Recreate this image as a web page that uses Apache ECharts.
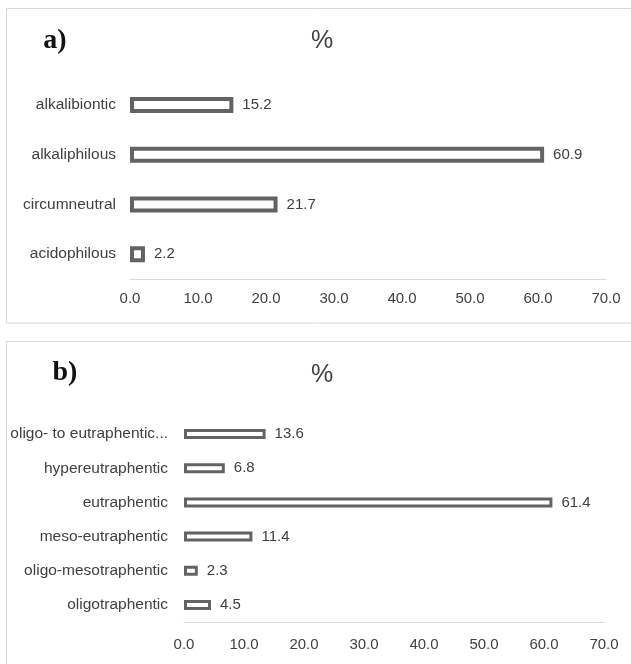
<!DOCTYPE html>
<html>
<head>
<meta charset="utf-8">
<script src="https://cdn.jsdelivr.net/npm/echarts@6/dist/echarts.min.js"></script>
<style>
html,body{margin:0;padding:0;background:#fff;}
#chart{width:631px;height:664px;}
</style>
</head>
<body>
<div id="chart"></div>
<script>
// Panel a) pH preference
const catsA = ['alkalibiontic', 'alkaliphilous', 'circumneutral', 'acidophilous'];
const valsA = [15.2, 60.9, 21.7, 2.2];
// Panel b) trophic state
const catsB = ['oligo- to eutraphentic...', 'hypereutraphentic', 'eutraphentic', 'meso-eutraphentic', 'oligo-mesotraphentic', 'oligotraphentic'];
const valsB = [13.6, 6.8, 61.4, 11.4, 2.3, 4.5];
const xTicks = [0, 10, 20, 30, 40, 50, 60, 70];
const panelLabels = ['a)', 'b)'];
const titleText = '%';

const FONT = 'Liberation Sans';
const TXT = '#404040';
const chart = echarts.init(document.getElementById('chart'), null, {renderer: 'canvas'});

function xAxisDef(gi, margin) {
  return {
    gridIndex: gi, type: 'value', min: xTicks[0], max: xTicks[xTicks.length - 1], interval: 10,
    axisLine: {show: true, lineStyle: {color: '#d9d9d9', width: 1}},
    axisTick: {show: false}, splitLine: {show: false},
    axisLabel: {color: TXT, fontFamily: FONT, fontSize: 15, margin: margin, formatter: v => v.toFixed(1)}
  };
}
function yAxisDef(gi, cats, margin) {
  return {
    gridIndex: gi, type: 'category', data: cats, inverse: true,
    axisLine: {show: false}, axisTick: {show: false},
    axisLabel: {color: TXT, fontFamily: FONT, fontSize: 15.5, margin: margin}
  };
}
function barDef(gi, vals, bw, bwid) {
  return {
    type: 'bar', xAxisIndex: gi, yAxisIndex: gi, data: vals, barWidth: bw,
    itemStyle: {color: '#ffffff', borderColor: '#636363', borderWidth: bwid},
    label: {show: true, position: 'right', distance: 9, color: TXT, fontFamily: FONT, fontSize: 15,
            formatter: p => p.value.toFixed(1)},
    silent: true
  };
}

chart.setOption({
  animation: false,
  backgroundColor: '#ffffff',
  grid: [
    {left: 130, width: 476, top: 80, height: 199},
    {left: 184, width: 420, top: 417, height: 205}
  ],
  xAxis: [xAxisDef(0, 12), xAxisDef(1, 15)],
  yAxis: [yAxisDef(0, catsA, 14), yAxisDef(1, catsB, 16)],
  series: [barDef(0, valsA, 16, 4), barDef(1, valsB, 10, 3)],
  graphic: [
    {type: 'rect', shape: {x: 6.5, y: 8.5, width: 640, height: 314.5}, style: {fill: 'none', stroke: '#d9d9d9', lineWidth: 1}},
    {type: 'rect', shape: {x: 6.5, y: 341.5, width: 640, height: 340}, style: {fill: 'none', stroke: '#d9d9d9', lineWidth: 1}},
    {type: 'text', x: 55, y: 41, style: {text: panelLabels[0], font: 'bold 28px "Liberation Serif"', fill: '#111', align: 'center', verticalAlign: 'middle'}},
    {type: 'text', x: 65, y: 373, style: {text: panelLabels[1], font: 'bold 28px "Liberation Serif"', fill: '#111', align: 'center', verticalAlign: 'middle'}},
    {type: 'text', x: 322, y: 41, style: {text: titleText, font: '25px "Liberation Sans"', fill: '#404040', align: 'center', verticalAlign: 'middle'}},
    {type: 'text', x: 322, y: 375, style: {text: titleText, font: '25px "Liberation Sans"', fill: '#404040', align: 'center', verticalAlign: 'middle'}}
  ]
});
</script>
</body>
</html>
